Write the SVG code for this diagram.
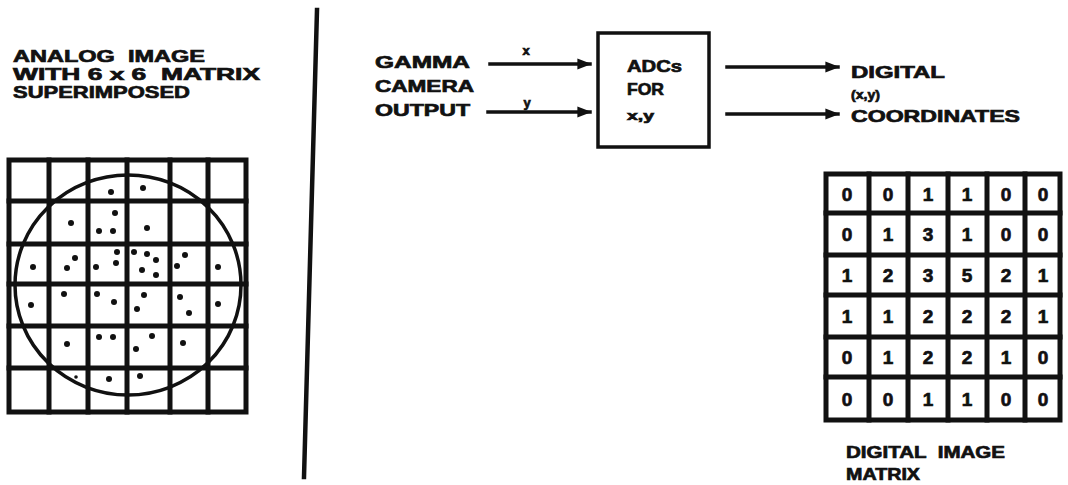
<svg xmlns="http://www.w3.org/2000/svg" width="1068" height="485" viewBox="0 0 1068 485">
<style>
  .t{font-family:"Liberation Sans",Arial,sans-serif;font-weight:bold;fill:#111;stroke:#111;stroke-width:0.7;white-space:pre;}
  .h{font-size:17px;}
  .s{font-size:13px;}
  .n{font-size:19px;text-anchor:middle;}
  .ln{stroke:#111;fill:none;stroke-linecap:square;}
  .dot{fill:#111;}
</style>
<defs>
  <marker id="ah" viewBox="0 0 10 10" refX="9" refY="5" markerWidth="4" markerHeight="4" orient="auto" markerUnits="strokeWidth">
    <path d="M0,1 L10,5 L0,9 Z" fill="#111"/>
  </marker>
</defs>
<rect width="1068" height="485" fill="#fff"/>

<g id="analog-title">
  <text class="t h" x="13" y="62" textLength="192" lengthAdjust="spacingAndGlyphs" xml:space="preserve">ANALOG  IMAGE</text>
  <text class="t h" x="13" y="80" textLength="247" lengthAdjust="spacingAndGlyphs" xml:space="preserve">WITH 6 x 6  MATRIX</text>
  <text class="t h" x="13" y="98" textLength="177" lengthAdjust="spacingAndGlyphs">SUPERIMPOSED</text>
</g>

<g id="analog-grid">
  <g class="ln" stroke-width="5">
    <rect x="9" y="160" width="237" height="252"/>
    <line x1="49" y1="160" x2="49" y2="412"/>
    <line x1="88" y1="160" x2="88" y2="412"/>
    <line x1="127" y1="160" x2="127" y2="412"/>
    <line x1="170" y1="160" x2="170" y2="412"/>
    <line x1="208" y1="160" x2="208" y2="412"/>
    <line x1="9" y1="201" x2="246" y2="201"/>
    <line x1="9" y1="244" x2="246" y2="244"/>
    <line x1="9" y1="284" x2="246" y2="284"/>
    <line x1="9" y1="326" x2="246" y2="326"/>
    <line x1="9" y1="368" x2="246" y2="368"/>
  </g>
  <ellipse class="ln" cx="128" cy="285" rx="113" ry="110" stroke-width="3.5"/>
  <g class="dot">
    <circle cx="111" cy="192" r="3"/><circle cx="143" cy="188" r="3"/>
    <circle cx="115" cy="213" r="3"/><circle cx="71" cy="223" r="3"/><circle cx="99" cy="231" r="3"/><circle cx="113" cy="231" r="3"/><circle cx="147" cy="228" r="3"/>
    <circle cx="33" cy="267" r="3"/><circle cx="75" cy="258" r="3"/><circle cx="67" cy="268" r="3"/><circle cx="96" cy="267" r="3"/><circle cx="117" cy="252" r="3"/><circle cx="116" cy="263" r="3"/><circle cx="134" cy="252" r="3"/><circle cx="147" cy="254" r="3"/><circle cx="156" cy="260" r="3"/><circle cx="142" cy="270" r="3"/><circle cx="156" cy="275" r="3"/><circle cx="185" cy="255" r="3"/><circle cx="177" cy="266" r="3"/><circle cx="218" cy="267" r="3"/>
    <circle cx="31" cy="305" r="3"/><circle cx="64" cy="294" r="3"/><circle cx="97" cy="294" r="3"/><circle cx="114" cy="302" r="3"/><circle cx="144" cy="295" r="3"/><circle cx="137" cy="309" r="3"/><circle cx="180" cy="297" r="3"/><circle cx="189" cy="313" r="3"/><circle cx="218" cy="304" r="3"/>
    <circle cx="67" cy="344" r="3"/><circle cx="99" cy="337" r="3"/><circle cx="113" cy="337" r="3"/><circle cx="152" cy="336" r="3"/><circle cx="136" cy="349" r="3"/><circle cx="183" cy="343" r="3"/>
    <circle cx="76" cy="377" r="1.8"/><circle cx="109" cy="379" r="3"/><circle cx="140" cy="376" r="3"/>
  </g>
</g>

<g id="divider">
  <line class="ln" x1="317" y1="10" x2="304" y2="477" stroke-width="4.5"/>
</g>

<g id="gamma-camera">
  <text class="t h" x="375" y="68" textLength="95" lengthAdjust="spacingAndGlyphs">GAMMA</text>
  <text class="t h" x="375" y="92" textLength="99" lengthAdjust="spacingAndGlyphs">CAMERA</text>
  <text class="t h" x="375" y="116" textLength="95" lengthAdjust="spacingAndGlyphs">OUTPUT</text>
</g>

<g id="adc">
  <rect class="ln" x="598" y="33" width="111" height="114" stroke-width="3.5"/>
  <text class="t h" x="627" y="72" textLength="55" lengthAdjust="spacingAndGlyphs">ADCs</text>
  <text class="t h" x="627" y="95" textLength="37" lengthAdjust="spacingAndGlyphs">FOR</text>
  <text class="t s" x="627" y="120" textLength="27" lengthAdjust="spacingAndGlyphs">x,y</text>
</g>

<g id="digital-coords">
  <text class="t h" x="851" y="78" textLength="94" lengthAdjust="spacingAndGlyphs">DIGITAL</text>
  <text class="t s" x="851" y="99" textLength="29" lengthAdjust="spacingAndGlyphs">(x,y)</text>
  <text class="t h" x="851" y="122" textLength="169" lengthAdjust="spacingAndGlyphs">COORDINATES</text>
</g>

<g id="connectors" class="ln" stroke-width="3.5">
  <line x1="490" y1="64" x2="590" y2="64" marker-end="url(#ah)"/>
  <line x1="488" y1="112" x2="590" y2="112" marker-end="url(#ah)"/>
  <line x1="727" y1="67" x2="838" y2="67" marker-end="url(#ah)"/>
  <line x1="727" y1="114" x2="838" y2="114" marker-end="url(#ah)"/>
</g>
<g id="connector-labels">
  <text class="t s" x="526" y="55" text-anchor="middle">x</text>
  <text class="t s" x="527" y="107" text-anchor="middle">y</text>
</g>

<g id="digital-matrix">
  <g class="ln" stroke-width="5">
    <rect x="826" y="174" width="234" height="246"/>
    <line x1="869" y1="174" x2="869" y2="420"/>
    <line x1="908" y1="174" x2="908" y2="420"/>
    <line x1="948" y1="174" x2="948" y2="420"/>
    <line x1="987" y1="174" x2="987" y2="420"/>
    <line x1="1025" y1="174" x2="1025" y2="420"/>
    <line x1="826" y1="213" x2="1060" y2="213"/>
    <line x1="826" y1="255" x2="1060" y2="255"/>
    <line x1="826" y1="295" x2="1060" y2="295"/>
    <line x1="826" y1="337" x2="1060" y2="337"/>
    <line x1="826" y1="377" x2="1060" y2="377"/>
  </g>
  <g class="t n">
    <text x="847" y="201">0</text><text x="888" y="201">0</text><text x="928" y="201">1</text><text x="967" y="201">1</text><text x="1006" y="201">0</text><text x="1043" y="201">0</text>
    <text x="847" y="241">0</text><text x="888" y="241">1</text><text x="928" y="241">3</text><text x="967" y="241">1</text><text x="1006" y="241">0</text><text x="1043" y="241">0</text>
    <text x="847" y="282">1</text><text x="888" y="282">2</text><text x="928" y="282">3</text><text x="967" y="282">5</text><text x="1006" y="282">2</text><text x="1043" y="282">1</text>
    <text x="847" y="323">1</text><text x="888" y="323">1</text><text x="928" y="323">2</text><text x="967" y="323">2</text><text x="1006" y="323">2</text><text x="1043" y="323">1</text>
    <text x="847" y="364">0</text><text x="888" y="364">1</text><text x="928" y="364">2</text><text x="967" y="364">2</text><text x="1006" y="364">1</text><text x="1043" y="364">0</text>
    <text x="847" y="406">0</text><text x="888" y="406">0</text><text x="928" y="406">1</text><text x="967" y="406">1</text><text x="1006" y="406">0</text><text x="1043" y="406">0</text>
  </g>
  <text class="t h" x="846" y="458" textLength="159" lengthAdjust="spacingAndGlyphs" xml:space="preserve">DIGITAL  IMAGE</text>
  <text class="t h" x="846" y="480" textLength="74" lengthAdjust="spacingAndGlyphs">MATRIX</text>
</g>
</svg>
